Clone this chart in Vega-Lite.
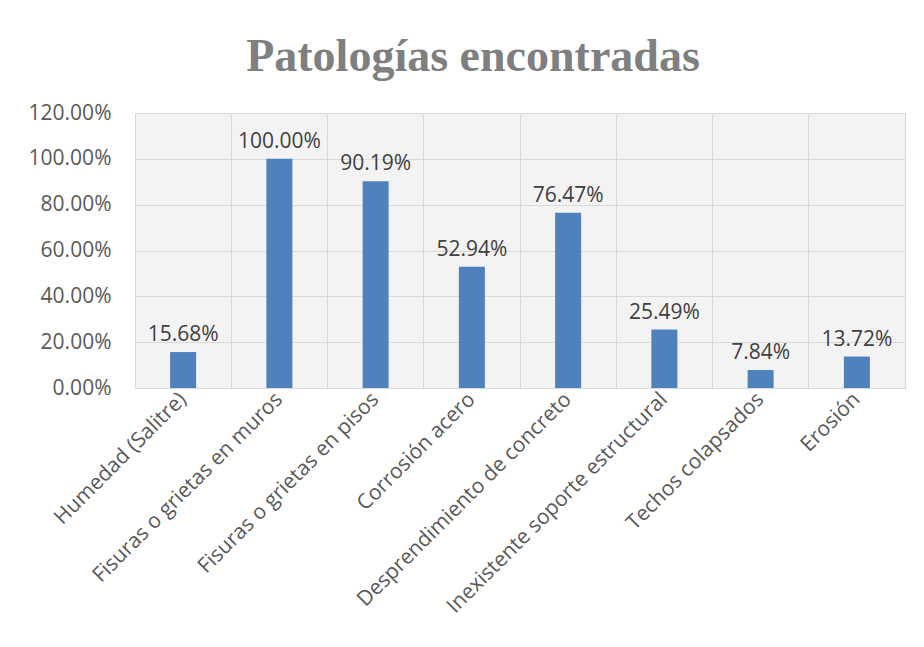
{
  "$schema": "https://vega.github.io/schema/vega-lite/v6.json",
  "autosize": {"type": "none"},
  "width": 770,
  "height": 275,
  "padding": {"left": 135, "top": 113, "right": 19, "bottom": 259},
  "background": "white",
  "title": {
    "text": "Patologías encontradas",
    "font": "Liberation Serif",
    "fontWeight": "bold",
    "fontSize": 46,
    "color": "#7f7f7f",
    "anchor": "middle",
    "dx": -47,
    "offset": 21
  },
  "data": {
    "values": [
      {"cat": "Humedad (Salitre)", "v": 0.1568},
      {"cat": "Fisuras o grietas en muros", "v": 1.0},
      {"cat": "Fisuras o grietas en pisos", "v": 0.9019},
      {"cat": "Corrosión acero", "v": 0.5294},
      {"cat": "Desprendimiento de concreto", "v": 0.7647},
      {"cat": "Inexistente soporte estructural", "v": 0.2549},
      {"cat": "Techos colapsados", "v": 0.0784},
      {"cat": "Erosión", "v": 0.1372}
    ]
  },
  "config": {
    "view": {"stroke": "#d9d9d9", "fill": "#f3f3f3"},
    "font": "Open Sans"
  },
  "encoding": {
    "x": {
      "field": "cat", "type": "nominal", "sort": null,
      "scale": {"paddingInner": 0, "paddingOuter": 0},
      "axis": {
        "title": null, "labelAngle": -45, "labelAlign": "right", "labelBaseline": "middle",
        "labelFont": "Open Sans", "labelFontSize": 21, "labelColor": "#595959",
        "labelPadding": 8, "ticks": false, "domainColor": "#d9d9d9",
        "grid": true, "gridColor": "#d9d9d9", "bandPosition": 0, "labelLimit": 400
      }
    },
    "y": {
      "field": "v", "type": "quantitative",
      "scale": {"domain": [0, 1.2]},
      "axis": {
        "title": null, "format": ".2%", "values": [0, 0.2, 0.4, 0.6, 0.8, 1.0, 1.2],
        "labelFont": "Open Sans", "labelFontSize": 21, "labelColor": "#595959",
        "domain": false, "ticks": false, "labelPadding": 24,
        "gridColor": "#d9d9d9"
      }
    }
  },
  "layer": [
    {"mark": {"type": "bar", "size": 26, "color": "#4f81bd"}},
    {
      "mark": {"type": "text", "baseline": "bottom", "dy": -7, "fontSize": 21, "color": "#404040", "font": "Open Sans"},
      "encoding": {"text": {"field": "v", "type": "quantitative", "format": ".2%"}}
    }
  ]
}
